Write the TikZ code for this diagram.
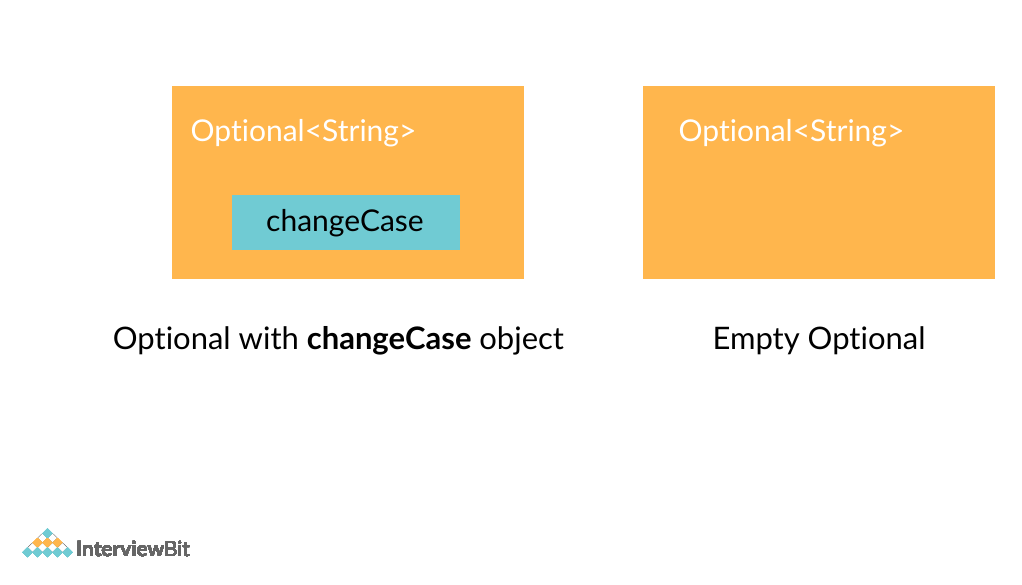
\documentclass[tikz,border=0pt]{standalone}
\usepackage{fontspec}
\setmainfont[Ligatures=NoCommon]{Lato}
\definecolor{boxorange}{HTML}{FFB64D}
\definecolor{boxteal}{HTML}{70CBD3}
\definecolor{logogrey}{HTML}{666666}
\tikzset{
  optbox/.style={fill=boxorange,draw=none,minimum width=352.5pt,minimum height=193pt,inner sep=0pt},
  valbox/.style={fill=boxteal,draw=none,minimum width=228pt,minimum height=55pt,inner sep=0pt,font=\fontsize{30}{36}\selectfont},
  boxtitle/.style={text=white,inner sep=0pt,anchor=base west,font=\fontsize{30}{36}\selectfont},
  caption/.style={inner sep=0pt,anchor=base,font=\fontsize{31}{37}\selectfont},
  tealcell/.style={fill=boxteal,draw=none},
  orangecell/.style={fill=boxorange,draw=none},
  whitecell/.style={fill=white,draw=logogrey,line width=0.3pt}
}
\newcommand{\logocell}[3]{\path[#3] (#1,#2-4.75) -- (#1+5,#2) -- (#1,#2+4.75) -- (#1-5,#2) -- cycle;}
\begin{document}
\begin{tikzpicture}[x=1pt,y=-1pt]
    \useasboundingbox (0,0) rectangle (1022,584);
    \node[optbox] (full) at (347.8,182) {};
    \node[optbox] (empty) at (818.8,182) {};
    \node[valbox] (value) at (346,222.5) {\hspace*{-2pt}\raisebox{-9.2pt}[0pt][0pt]{changeCase}};
    \node[boxtitle] (fulltitle) at (190.5,141) {Optional<String>};
    \node[boxtitle] (emptytitle) at (678.5,141) {Optional<String>};
    \node[caption] (fullcaption) at (338.5,349) {Optional with \textbf{changeCase} object};
    \node[caption] (emptycaption) at (819,349) {Empty Optional};
    % logo
    \foreach \x in {42.5,52.5} \logocell{\x}{538}{whitecell}
    \foreach \x in {32.5,42.5,52.5,62.5} \logocell{\x}{547.5}{whitecell}
    \logocell{47.5}{533.25}{tealcell}
    \foreach \x in {37.5,47.5,57.5} \logocell{\x}{542.75}{orangecell}
    \foreach \x in {27.5,37.5,47.5,57.5,67.5} \logocell{\x}{552.25}{tealcell}
    \node[inner sep=0pt,anchor=base west,text=logogrey,font=\fontsize{20.8}{25}\selectfont] (logotext) at (76,556) {\textbf{Interview}Bit};
\end{tikzpicture}
\end{document}
